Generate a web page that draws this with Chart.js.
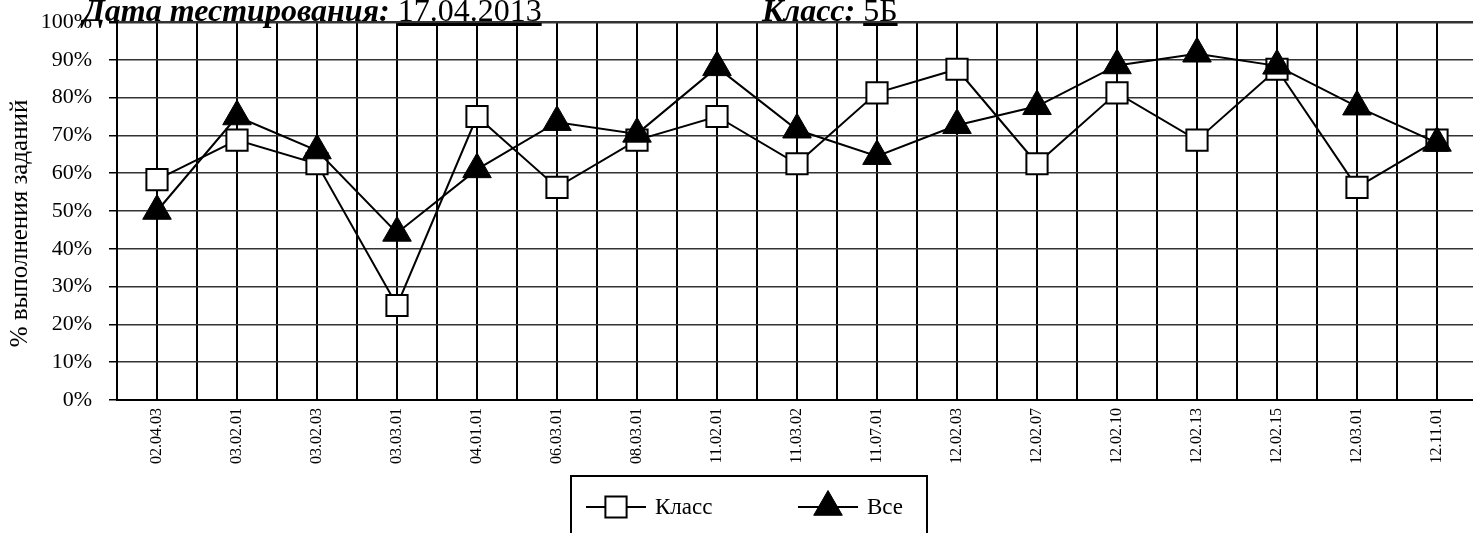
<!DOCTYPE html>
<html>
<head>
<meta charset="utf-8">
<title>Дата тестирования</title>
<script src="https://cdn.jsdelivr.net/npm/chart.js@4.4.0/dist/chart.umd.min.js"></script>
<style>
  html, body { margin: 0; padding: 0; background: #fff; overflow: hidden; width: 1473px; height: 533px; }
  #wrap { position: relative; width: 1477px; height: 533px; }
  #chart { position: absolute; left: 0; top: 0; }
  .hdr { position: absolute; top: -6px; font-family: "Liberation Serif", serif; font-size: 32px; line-height: 32px; white-space: nowrap; color: #000; z-index: 2; }
  .hdr b { font-style: italic; font-weight: bold; }
  .hdr u { text-decoration: underline; }
</style>
</head>
<body>
<div id="wrap">
  <canvas id="chart" width="1477" height="533"></canvas>
  <div class="hdr" style="left:83px"><b>Дата тестирования:</b> <u>17.04.2013</u></div>
  <div class="hdr" style="left:762px"><b>Класс:</b> <u>5Б</u></div>
</div>
<script>
// --- data ---
const categories = ['02.04.03', '03.02.01', '03.02.03', '03.03.01', '04.01.01', '06.03.01', '08.03.01', '11.02.01',
  '11.03.02', '11.07.01', '12.02.03', '12.02.07', '12.02.10', '12.02.13', '12.02.15', '12.03.01', '12.11.01'];

// class results (squares)
const klassValues = [58.3, 68.75, 62.5, 25, 75, 56.25, 68.75, 75, 62.5, 81.25, 87.5, 62.5, 81.25, 68.75, 87.5, 56.25, 68.75];
// all students (triangles)
const allValues = [50, 75, 66, 44.2, 61, 73.5, 70.4, 88, 71.5, 64.5, 72.7, 77.7, 88.5, 91.6, 88.4, 77.6, 68];

const seriesNames = ['Класс', 'Все'];
const yTickStep = 10;

// --- legend in a framed box, like the original ---
const legendBox = {
    id: 'legendBox',
    afterDraw(chart) {
        const ctx = chart.ctx;
        ctx.save();
        ctx.fillStyle = '#fff';
        ctx.fillRect(571, 476, 356, 80);
        ctx.strokeStyle = '#000';
        ctx.lineWidth = 2;
        ctx.strokeRect(571, 476, 356, 80);

        const cy = 507;
        const starts = [586, 798];
        chart.data.datasets.forEach((ds, i) => {
            const x = starts[i];
            ctx.beginPath();
            ctx.moveTo(x, cy);
            ctx.lineTo(x + 60, cy);
            ctx.lineWidth = ds.borderWidth;
            ctx.strokeStyle = ds.borderColor;
            ctx.stroke();

            ctx.fillStyle = ds.pointBackgroundColor;
            ctx.strokeStyle = ds.pointBorderColor;
            ctx.lineWidth = ds.pointBorderWidth;
            Chart.helpers.drawPoint(ctx, {
                pointStyle: ds.pointStyle,
                radius: ds.pointRadius,
                borderWidth: ds.pointBorderWidth,
                rotation: 0
            }, x + 30, cy);

            ctx.fillStyle = '#000';
            ctx.font = '23px "Liberation Serif"';
            ctx.textBaseline = 'middle';
            ctx.textAlign = 'left';
            ctx.fillText(ds.label, x + 69, cy + 1);
        });
        ctx.restore();
    }
};

const ctx = document.getElementById('chart').getContext('2d');
new Chart(ctx, {
    type: 'line',
    data: {
        labels: categories,
        datasets: [{
            label: seriesNames[0],
            data: klassValues,
            borderColor: '#000',
            borderWidth: 2,
            pointStyle: 'rect',
            pointRadius: 15,
            pointBackgroundColor: '#fff',
            pointBorderColor: '#000',
            pointBorderWidth: 2,
            tension: 0,
            order: 1
        }, {
            label: seriesNames[1],
            data: allValues,
            borderColor: '#000',
            borderWidth: 2,
            pointStyle: 'triangle',
            pointRadius: 16.5,
            pointBackgroundColor: '#000',
            pointBorderColor: '#000',
            pointBorderWidth: 1,
            tension: 0,
            order: 0 // triangles sit on top of the squares
        }]
    },
    options: {
        responsive: false,
        animation: false,
        layout: { autoPadding: false, padding: { top: 22, right: 0, bottom: 0, left: 0 } },
        plugins: {
            legend: { display: false },
            tooltip: { enabled: false }
        },
        scales: {
            x: {
                offset: true,
                grid: { offset: false, color: '#000', lineWidth: 2, drawTicks: false },
                border: { display: true, color: '#000', width: 2 },
                ticks: {
                    autoSkip: false,
                    minRotation: 90,
                    maxRotation: 90,
                    padding: 8,
                    color: '#000',
                    font: { family: 'Liberation Serif', size: 16 }
                },
                afterFit(scale) {
                    scale.height = 133;
                    scale.paddingLeft = 0;
                    scale.paddingRight = 0;
                }
            },
            // second axis only for the lines between categories
            x2: {
                position: 'bottom',
                offset: true,
                grid: { offset: true, color: '#000', lineWidth: 2, drawTicks: false },
                border: { display: false },
                ticks: { display: false },
                afterFit(scale) {
                    scale.height = 0;
                    scale.paddingLeft = 0;
                    scale.paddingRight = 0;
                }
            },
            y: {
                min: 0,
                max: 100,
                ticks: {
                    stepSize: yTickStep,
                    callback: v => v + '%',
                    padding: 17,
                    color: '#000',
                    font: { family: 'Liberation Serif', size: 22 }
                },
                grid: {
                    color: '#333',
                    lineWidth: c => (c.tick && c.tick.value === 100 ? 2.5 : 1.5),
                    tickLength: 8,
                    tickColor: '#000'
                },
                border: { display: true, color: '#000', width: 2 },
                title: {
                    display: true,
                    text: '% выполнения заданий\u00a0\u00a0\u00a0\u00a0',
                    color: '#000',
                    font: { family: 'Liberation Serif', size: 25 },
                    padding: { top: 5, bottom: 0 }
                },
                afterFit(scale) {
                    scale.width = 117;
                    scale.paddingTop = 0;
                }
            }
        }
    },
    plugins: [legendBox]
});
</script>
</body>
</html>
